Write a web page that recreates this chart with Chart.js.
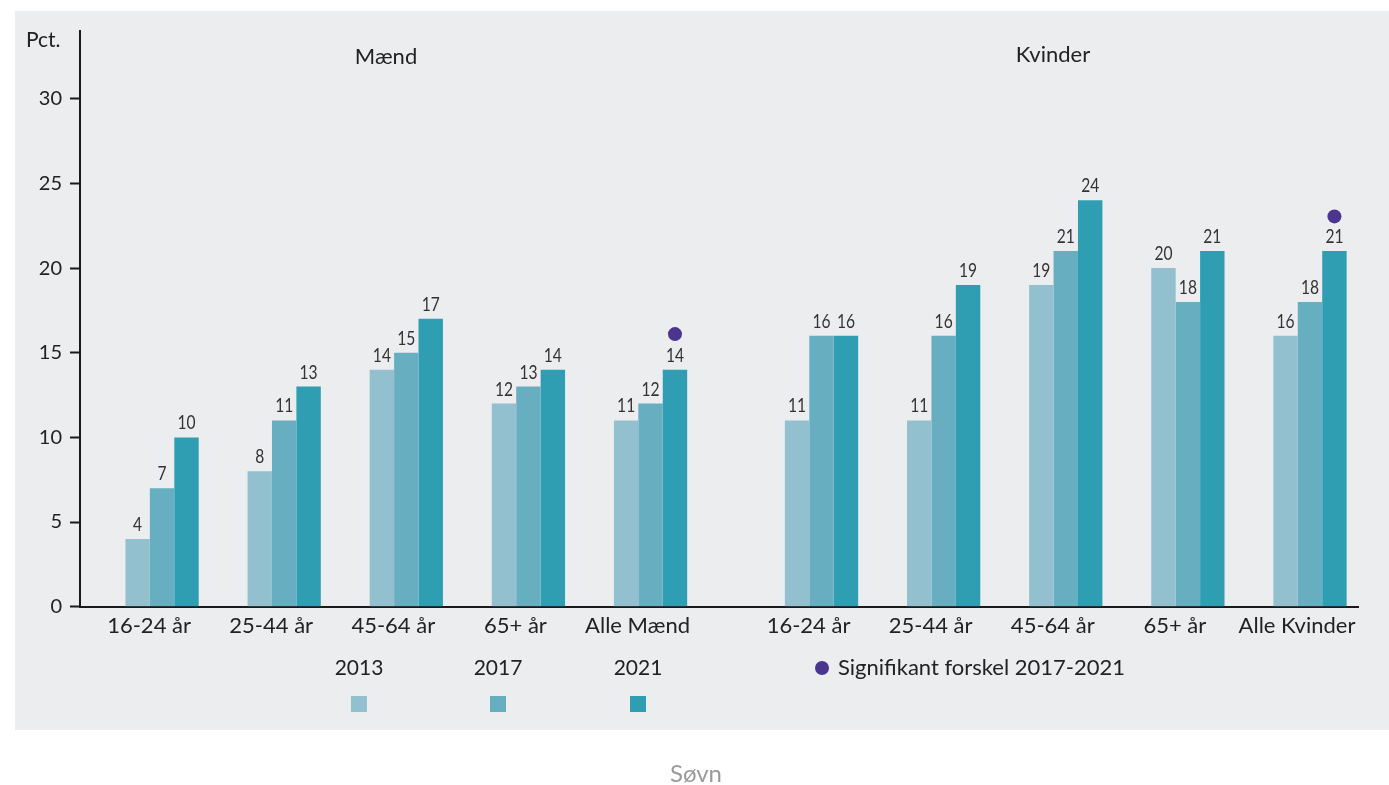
<!DOCTYPE html>
<html>
<head>
<meta charset="utf-8">
<script src="https://cdn.jsdelivr.net/npm/chart.js@4.4.1/dist/chart.umd.min.js"></script>
<style>
  html, body { margin: 0; padding: 0; background: #ffffff; }
  #panel { position: absolute; left: 15px; top: 11px; width: 1374px; height: 719px; background: #ecedef; }
  #wrap { position: absolute; left: 0; top: 0; width: 1389px; height: 785px; }
</style>
</head>
<body>
<div id="panel"></div>
<div id="wrap"><canvas id="c" width="1389" height="785"></canvas></div>
<script>
// ---- data ----
const categories = ['16-24 år', '25-44 år', '45-64 år', '65+ år', 'Alle Mænd',
                    '16-24 år', '25-44 år', '45-64 år', '65+ år', 'Alle Kvinder'];
const xPositions = [0, 1, 2, 3, 4, 5.4, 6.4, 7.4, 8.4, 9.4];
const seriesNames = ['2013', '2017', '2021'];
const values2013 = [4, 8, 14, 12, 11, 11, 11, 19, 20, 16];
const values2017 = [7, 11, 15, 13, 12, 16, 16, 21, 18, 18];
const values2021 = [10, 13, 17, 14, 14, 16, 19, 24, 21, 21];
const significanceMarks = [null, null, null, null, 16.1, null, null, null, null, 23.05];
const yTickValues = [0, 5, 10, 15, 20, 25, 30];
const groupTitles = ['Mænd', 'Kvinder'];
const sigLabel = 'Signifikant forskel 2017-2021';
const yAxisTitle = 'Pct.';
const footerText = 'Søvn';

// ---- style ----
const colors = ['#92c0cf', '#66aec0', '#2f9eb3'];
const dotColor = '#4b358f';
const textColor = '#222222';
const FONT = 'Lato, "Open Sans", sans-serif';
const catPct = 0.6;

const toPoints = vals => xPositions.map((x, i) => ({ x: x, y: vals[i] }));
const allSeries = [values2013, values2017, values2021];

const datasets = allSeries.map((vals, k) => ({
  type: 'bar',
  label: seriesNames[k],
  data: toPoints(vals),
  backgroundColor: colors[k],
  borderWidth: 0,
  barPercentage: 1.0,
  categoryPercentage: catPct,
  order: 2
}));

const sigOffset = catPct / 3; // centre of the third bar in a group
datasets.push({
  type: 'scatter',
  label: sigLabel,
  data: xPositions.map((x, i) => ({ x: x + sigOffset, y: significanceMarks[i] }))
                  .filter(p => p.y !== null),
  pointRadius: 7,
  pointHoverRadius: 7,
  pointBackgroundColor: dotColor,
  pointBorderWidth: 0,
  showLine: false,
  order: 1
});

const overlay = {
  id: 'overlay',
  afterDatasetsDraw(chart) {
    const ctx = chart.ctx;
    chart.data.datasets.forEach((ds, di) => {
      if (ds.type !== 'bar') return;
      const meta = chart.getDatasetMeta(di);
      meta.data.forEach((bar, i) => {
        ctx.save();
        ctx.translate(bar.x, bar.y - 8);
        ctx.scale(0.82, 1);
        ctx.fillStyle = '#333333';
        ctx.font = '19px ' + FONT;
        ctx.textAlign = 'center';
        ctx.textBaseline = 'alphabetic';
        ctx.fillText(String(ds.data[i].y), 0, 0);
        ctx.restore();
      });
    });
  },
  afterDraw(chart) {
    const ctx = chart.ctx;
    ctx.save();
    ctx.fillStyle = textColor;
    ctx.textBaseline = 'middle';
    // y axis title
    ctx.font = '21px ' + FONT;
    ctx.textAlign = 'left';
    ctx.fillText(yAxisTitle, 26, 40);
    // group titles
    ctx.font = '22px ' + FONT;
    ctx.textAlign = 'center';
    ctx.fillText(groupTitles[0], 386, 57);
    ctx.fillText(groupTitles[1], 1053, 55);
    // legend
    ctx.font = '21px ' + FONT;
    const legX = [359, 498, 638];
    seriesNames.forEach((n, k) => {
      ctx.fillStyle = textColor;
      ctx.fillText(n, legX[k], 668);
      ctx.fillStyle = colors[k];
      ctx.fillRect(legX[k] - 8, 696, 16, 16);
    });
    ctx.fillStyle = dotColor;
    ctx.beginPath();
    ctx.arc(822, 668, 7, 0, Math.PI * 2);
    ctx.fill();
    ctx.font = '22px ' + FONT;
    ctx.fillStyle = textColor;
    ctx.textAlign = 'left';
    ctx.fillText(sigLabel, 838, 668);
    // footer
    ctx.font = '24px ' + FONT;
    ctx.fillStyle = '#9a9a9a';
    ctx.textAlign = 'center';
    ctx.fillText(footerText, 696, 774);
    ctx.restore();
  }
};

new Chart(document.getElementById('c'), {
  data: { datasets: datasets },
  plugins: [overlay],
  options: {
    responsive: false,
    devicePixelRatio: 1,
    animation: false,
    layout: { padding: { top: 31, right: 31, bottom: 0, left: 0 } },
    plugins: { legend: { display: false }, tooltip: { enabled: false } },
    scales: {
      x: {
        type: 'linear',
        position: 'bottom',
        offset: false,
        min: -0.672,
        max: 9.793,
        afterBuildTicks: s => { s.ticks = xPositions.map(v => ({ value: v })); },
        afterFit: s => { s.height = 178.3; },
        grid: { display: false, drawTicks: false, offset: false },
        border: { display: true, color: '#1a1a1a', width: 2 },
        ticks: {
          autoSkip: false,
          maxRotation: 0,
          padding: 6,
          labelOffset: -13,
          color: textColor,
          font: { family: FONT, size: 22 },
          callback: (v, i) => categories[i]
        }
      },
      y: {
        type: 'linear',
        min: 0,
        max: 34,
        afterBuildTicks: s => { s.ticks = yTickValues.map(v => ({ value: v })); },
        afterFit: s => { s.width = 80; },
        grid: { display: true, drawOnChartArea: false, drawTicks: true, tickLength: 10,
                tickColor: '#1a1a1a', tickWidth: 2 },
        border: { display: true, color: '#1a1a1a', width: 2 },
        ticks: {
          padding: 8,
          color: textColor,
          font: { family: FONT, size: 20 }
        }
      }
    }
  }
});
</script>
</body>
</html>
